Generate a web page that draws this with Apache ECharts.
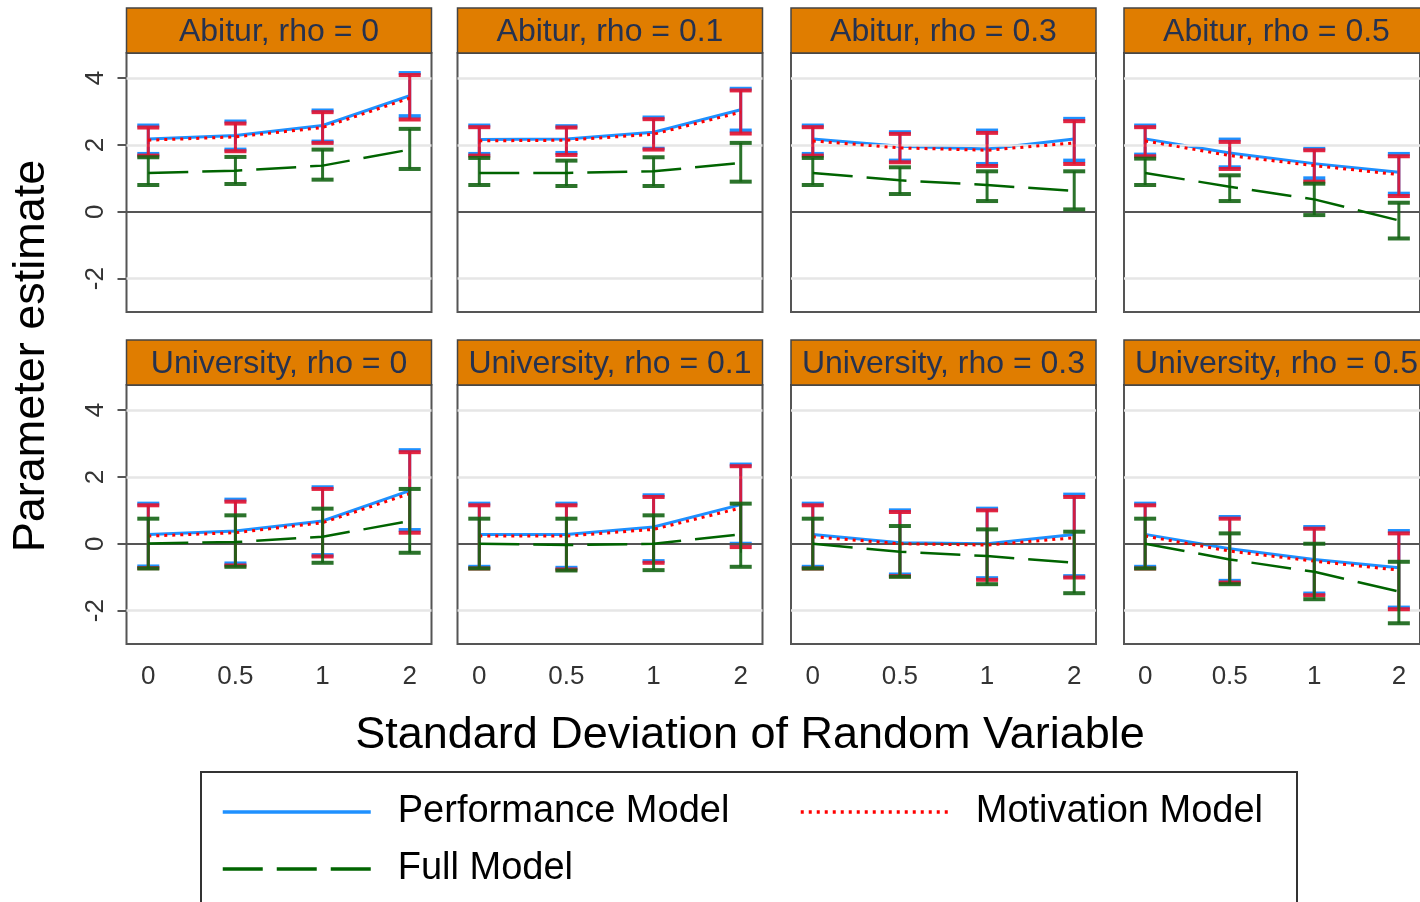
<!DOCTYPE html>
<html>
<head>
<meta charset="utf-8">
<script src="https://cdn.jsdelivr.net/npm/echarts@6/dist/echarts.min.js"></script>
<style>
  html, body { margin: 0; padding: 0; background: #fff; }
  #chart { width: 1420px; height: 902px; }
</style>
</head>
<body>
<div id="chart"></div>
<script>
// facet titles, row by row
const panelTitles = [
  'Abitur, rho = 0', 'Abitur, rho = 0.1', 'Abitur, rho = 0.3', 'Abitur, rho = 0.5',
  'University, rho = 0', 'University, rho = 0.1', 'University, rho = 0.3', 'University, rho = 0.5'
]
const xLabels = ['0', '0.5', '1', '2']
const xPos = [1, 2, 3, 4]
const yTicks = [-2, 0, 2, 4]

// Performance Model
const perfEst = [
  [2.18, 2.28, 2.58, 3.47], [2.16, 2.18, 2.38, 3.05], [2.18, 1.96, 1.88, 2.18], [2.18, 1.76, 1.44, 1.18],
  [0.28, 0.38, 0.68, 1.59], [0.28, 0.28, 0.50, 1.17], [0.28, 0.03, 0.00, 0.28], [0.28, -0.15, -0.47, -0.72]
]
const perfLo = [
  [1.73, 1.86, 2.10, 2.86], [1.73, 1.76, 1.91, 2.43], [1.73, 1.53, 1.43, 1.53], [1.71, 1.33, 1.00, 0.54],
  [-0.68, -0.59, -0.34, 0.41], [-0.69, -0.72, -0.52, 0.00], [-0.69, -0.92, -1.03, -0.97], [-0.69, -1.11, -1.49, -1.91]
]
const perfHi = [
  [2.58, 2.70, 3.03, 4.15], [2.58, 2.56, 2.82, 3.68], [2.58, 2.38, 2.43, 2.78], [2.58, 2.16, 1.89, 1.73],
  [1.20, 1.32, 1.69, 2.80], [1.20, 1.20, 1.45, 2.37], [1.20, 1.00, 1.05, 1.47], [1.20, 0.80, 0.50, 0.38]
]

// Motivation Model
const motEst = [
  [2.14, 2.24, 2.52, 3.40], [2.12, 2.14, 2.32, 2.98], [2.12, 1.91, 1.84, 2.06], [2.12, 1.68, 1.38, 1.11],
  [0.23, 0.33, 0.63, 1.50], [0.23, 0.23, 0.43, 1.07], [0.21, 0.00, -0.04, 0.18], [0.23, -0.22, -0.52, -0.79]
]
const motLo = [
  [1.68, 1.81, 2.06, 2.76], [1.68, 1.70, 1.86, 2.34], [1.68, 1.48, 1.37, 1.43], [1.66, 1.28, 0.90, 0.47],
  [-0.73, -0.65, -0.38, 0.33], [-0.74, -0.77, -0.57, -0.10], [-0.74, -0.97, -1.08, -1.01], [-0.74, -1.16, -1.54, -1.96]
]
const motHi = [
  [2.52, 2.64, 2.98, 4.09], [2.53, 2.52, 2.77, 3.63], [2.53, 2.33, 2.36, 2.71], [2.53, 2.09, 1.84, 1.66],
  [1.15, 1.26, 1.64, 2.74], [1.15, 1.15, 1.40, 2.32], [1.15, 0.95, 1.00, 1.40], [1.15, 0.75, 0.45, 0.31]
]

// Full Model
const fullEst = [
  [1.16, 1.23, 1.38, 1.86], [1.16, 1.16, 1.21, 1.46], [1.16, 0.94, 0.80, 0.62], [1.16, 0.75, 0.37, -0.26],
  [0.01, 0.05, 0.21, 0.68], [0.00, -0.04, 0.00, 0.28], [0.00, -0.24, -0.37, -0.57], [0.00, -0.47, -0.84, -1.43]
]
const fullLo = [
  [0.80, 0.83, 0.96, 1.28], [0.80, 0.77, 0.77, 0.90], [0.80, 0.53, 0.32, 0.07], [0.80, 0.32, -0.10, -0.80],
  [-0.74, -0.69, -0.57, -0.27], [-0.74, -0.80, -0.79, -0.69], [-0.74, -0.99, -1.21, -1.48], [-0.74, -1.21, -1.66, -2.38]
]
const fullHi = [
  [1.63, 1.64, 1.86, 2.48], [1.61, 1.53, 1.63, 2.06], [1.61, 1.33, 1.21, 1.21], [1.59, 1.09, 0.84, 0.27],
  [0.75, 0.85, 1.05, 1.64], [0.75, 0.75, 0.85, 1.20], [0.75, 0.53, 0.43, 0.36], [0.75, 0.31, 0.00, -0.54]
]

const FONT = '"Liberation Sans", Arial, sans-serif'
const colLeft = [126.5, 457.5, 791, 1124]
const rowTop = [53, 385]
const panelW = 305
const panelH = 259
const stripH = 45

const models = [
  { name: 'Performance Model', est: perfEst, lo: perfLo, hi: perfHi, color: '#1E90FF', bar: '#1E90FF', type: 'solid', width: 3 },
  { name: 'Motivation Model', est: motEst, lo: motLo, hi: motHi, color: '#FF0000', bar: 'rgba(225,20,50,0.92)', type: [3, 5], width: 3 },
  { name: 'Full Model', est: fullEst, lo: fullLo, hi: fullHi, color: '#006400', bar: 'rgba(20,100,20,0.9)', type: [40, 14], width: 2.5 }
]

const makeErrRender = (color) => (params, api) => {
  const x = api.value(0)
  const top = api.coord([x, api.value(2)])
  const bot = api.coord([x, api.value(1)])
  const half = 11
  const style = { stroke: color, lineWidth: 3 }
  const capStyle = { stroke: color, lineWidth: 4 }
  return {
    type: 'group',
    children: [
      { type: 'line', shape: { x1: top[0], y1: top[1], x2: bot[0], y2: bot[1] }, style },
      { type: 'line', shape: { x1: top[0] - half, y1: top[1], x2: top[0] + half, y2: top[1] }, style: capStyle },
      { type: 'line', shape: { x1: bot[0] - half, y1: bot[1], x2: bot[0] + half, y2: bot[1] }, style: capStyle }
    ]
  }
}

const grid = []
const xAxis = []
const yAxis = []
const series = []
const graphic = []

panelTitles.forEach((title, i) => {
  const row = Math.floor(i / 4)
  const col = i % 4
  const left = colLeft[col]
  const top = rowTop[row]

  grid.push({
    left, top, width: panelW, height: panelH,
    show: true, borderColor: '#555', borderWidth: 2, backgroundColor: '#fff'
  })

  xAxis.push({
    type: 'value', gridIndex: i, min: 0.75, max: 4.25,
    splitLine: { show: false },
    axisLine: { show: false },
    axisTick: { show: row === 1, customValues: xPos, length: 9, lineStyle: { color: '#555', width: 2 } },
    axisLabel: {
      show: row === 1, customValues: xPos, margin: 20,
      formatter: v => xLabels[xPos.indexOf(v)],
      fontFamily: FONT, fontSize: 26, color: '#333'
    }
  })

  yAxis.push({
    type: 'value', gridIndex: i, min: -3, max: 4.75,
    splitLine: { show: false },
    axisLine: { show: false },
    axisTick: { show: col === 0, customValues: yTicks, length: 9, lineStyle: { color: '#555', width: 2 } },
    axisLabel: {
      show: col === 0, customValues: yTicks, rotate: 90, margin: 18,
      fontFamily: FONT, fontSize: 26, color: '#333'
    }
  })

  // reference lines
  series.push({
    type: 'line', xAxisIndex: i, yAxisIndex: i, data: [], z: 1, silent: true,
    markLine: {
      symbol: 'none', silent: true, label: { show: false },
      data: [
        { yAxis: -2, lineStyle: { color: '#e6e6e6', width: 2.5, type: 'solid' } },
        { yAxis: 2, lineStyle: { color: '#e6e6e6', width: 2.5, type: 'solid' } },
        { yAxis: 4, lineStyle: { color: '#e6e6e6', width: 2.5, type: 'solid' } },
        { yAxis: 0, lineStyle: { color: '#555', width: 2, type: 'solid' } }
      ]
    }
  })

  models.forEach((m, k) => {
    // line first so the legend takes its style
    series.push({
      type: 'line', name: m.name, xAxisIndex: i, yAxisIndex: i, z: 4 + k * 2,
      symbol: 'none', silent: true,
      lineStyle: { color: m.color, width: m.width, type: m.type },
      itemStyle: { color: m.color },
      data: xPos.map((x, j) => [x, m.est[i][j]])
    })
    series.push({
      type: 'custom', name: m.name + ' CI', xAxisIndex: i, yAxisIndex: i, z: 3 + k * 2,
      renderItem: makeErrRender(m.bar),
      data: xPos.map((x, j) => [x, m.lo[i][j], m.hi[i][j]]),
      encode: { x: 0, y: [1, 2] },
      silent: true
    })
  })

  // facet strip
  graphic.push({
    type: 'rect', z: 10,
    shape: { x: left, y: top - stripH, width: panelW, height: stripH },
    style: { fill: '#E07D00', stroke: '#444', lineWidth: 1.5 }
  })
  graphic.push({
    type: 'text', z: 11,
    x: left + panelW / 2, y: top - stripH / 2 + 2,
    style: {
      text: title, fill: '#26324f', font: `32px ${FONT}`,
      textAlign: 'center', textVerticalAlign: 'middle'
    }
  })
})

// axis titles
graphic.push({
  type: 'text', x: 750, y: 736,
  style: { text: 'Standard Deviation of Random Variable', fill: '#000', font: `45px ${FONT}`, textAlign: 'center', textVerticalAlign: 'middle' }
})
graphic.push({
  type: 'text', x: 32, y: 356, rotation: Math.PI / 2,
  style: { text: 'Parameter estimate', fill: '#000', font: `45px ${FONT}`, textAlign: 'center', textVerticalAlign: 'middle' }
})

// legend box
graphic.push({
  type: 'rect', z: 0,
  shape: { x: 201, y: 772, width: 1096, height: 150 },
  style: { fill: 'none', stroke: '#333', lineWidth: 2 }
})

const legendBase = {
  orient: 'horizontal', padding: 0, itemWidth: 148, itemHeight: 14,
  selectedMode: false,
  itemStyle: { opacity: 0, color: 'transparent', borderWidth: 0 },
  lineStyle: { width: 3.5 },
  textStyle: { fontFamily: FONT, fontSize: 38, color: '#000', padding: [0, 0, 0, 22] }
}

const chart = echarts.init(document.getElementById('chart'))
chart.setOption({
  animation: false,
  backgroundColor: '#fff',
  grid, xAxis, yAxis, series, graphic,
  legend: [
    { ...legendBase, data: ['Performance Model'], left: 221, top: 793 },
    { ...legendBase, data: ['Motivation Model'], left: 799, top: 793 },
    { ...legendBase, data: ['Full Model'], left: 221, top: 850 }
  ]
})
</script>
</body>
</html>
